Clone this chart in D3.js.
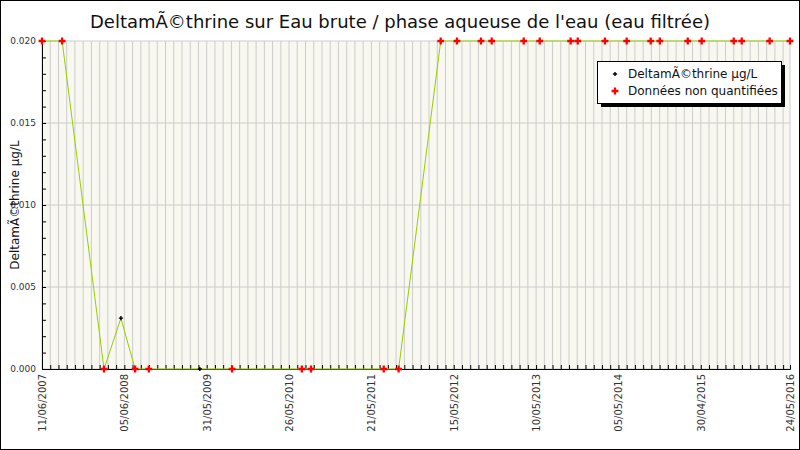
<!DOCTYPE html>
<html><head><meta charset="utf-8">
<script src="https://cdn.jsdelivr.net/npm/d3@7"></script>
<style>body{margin:0;background:#fff}text{font-family:"DejaVu Sans",sans-serif}</style>
</head><body><svg id="c" width="800" height="450"></svg>
<script>
const dates = ["2007-06-11","2007-09-07","2008-03-08","2008-05-21","2008-07-22","2008-09-20","2009-05-01","2009-09-19","2010-07-21","2010-08-30","2011-07-14","2011-09-17","2012-03-19","2012-05-29","2012-09-11","2012-10-28","2013-03-17","2013-05-26","2013-10-08","2013-11-08","2014-03-07","2014-06-10","2014-09-23","2014-11-02","2015-03-04","2015-05-04","2015-09-21","2015-10-26","2016-02-25","2016-05-24"];
const values = [0.02,0.02,0,0.0031,0,0,0,0,0,0,0,0,0.02,0.02,0.02,0.02,0.02,0.02,0.02,0.02,0.02,0.02,0.02,0.02,0.02,0.02,0.02,0.02,0.02,0.02];
const quantified = [0,0,0,1,0,0,1,0,0,0,0,0,0,0,0,0,0,0,0,0,0,0,0,0,0,0,0,0,0,0];
const yTicks = [0,0.005,0.010,0.015,0.020];
const title = "DeltamÃ©thrine sur Eau brute / phase aqueuse de l'eau (eau filtrée)";
const yLabel = "DeltamÃ©thrine µg/L";
const legendLabels = ["DeltamÃ©thrine µg/L","Données non quantifiées"];

const svg = d3.select("#c");
const L=42,R=790,T=41,B=369;
const p = d3.utcParse("%Y-%m-%d");
const start=p("2007-06-11"), end=p("2016-05-24");
const x = d3.scaleUtc().domain([start,end]).range([L,R]);
const y = d3.scaleLinear().domain([0,0.02]).range([B,T]);
svg.append("rect").attr("x",0.5).attr("y",0.5).attr("width",799).attr("height",449).attr("fill","#fff").attr("stroke","#000");
svg.append("rect").attr("x",L).attr("y",T).attr("width",R-L).attr("height",B-T).attr("fill","#f8f8f0");
const grid=d3.range(0,3270,36).map(d=>d3.utcDay.offset(start,d)).concat([end]);
const labelTicks=d3.range(0,3241,360).map(d=>d3.utcDay.offset(start,d)).filter(d=>x(d)<R-30).concat([end]);
svg.append("g").selectAll("line").data(grid).join("line").attr("x1",d=>x(d)).attr("x2",d=>x(d)).attr("y1",T).attr("y2",B).attr("stroke","#ccc");
svg.append("g").selectAll("line").data(yTicks).join("line").attr("x1",L).attr("x2",R).attr("y1",d=>y(d)).attr("y2",d=>y(d)).attr("stroke","#ccc");
svg.append("g").attr("transform",`translate(0,${B})`).call(d3.axisBottom(x).tickValues(grid).tickSize(-4).tickFormat("")).call(g=>g.select(".domain").attr("stroke","#000"));
const ax=svg.append("g").attr("transform",`translate(0,${B})`).call(d3.axisBottom(x).tickValues(labelTicks).tickSize(0).tickFormat(d3.utcFormat("%d/%m/%Y")));
ax.select(".domain").remove();
ax.selectAll("text").attr("font-size",10).attr("fill","#333").attr("transform","rotate(-90)").attr("text-anchor","end").attr("dx","-5").attr("dy","0.35em").attr("x",0).attr("y",0);
const yl=svg.append("g").attr("transform",`translate(${L},0)`).call(d3.axisLeft(y).tickValues(yTicks).tickSize(0).tickPadding(6).tickFormat(d3.format(".3f")));
yl.select(".domain").remove();
yl.selectAll("text").attr("font-size",9).attr("fill","#333");
svg.append("g").attr("transform",`translate(${L},0)`).call(d3.axisRight(y).ticks(20).tickSize(4).tickFormat("")).call(g=>g.select(".domain").attr("stroke","#000"));
const data=dates.map((d,i)=>({d:p(d),v:values[i],q:quantified[i]}));
svg.append("path").datum(data).attr("fill","none").attr("stroke","#99cc00").attr("stroke-width",1).attr("d",d3.line().x(d=>x(d.d)).y(d=>y(d.v)));
const sym=d3.symbol().type(d3.symbolCross);
svg.append("g").selectAll("path").data(data).join("path").attr("transform",d=>`translate(${x(d.d)},${y(d.v)})`).attr("d",d=>sym.size(d.q?10:26)()).attr("fill",d=>d.q?"#000":"#f00");
svg.append("text").attr("x",400).attr("y",28).attr("text-anchor","middle").attr("font-size",18).attr("fill","#111").text(title);
svg.append("text").attr("transform","translate(19,205) rotate(-90)").attr("text-anchor","middle").attr("font-size",12).attr("fill","#111").text(yLabel);
const lg=svg.append("g");
lg.append("rect").attr("x",601).attr("y",65).attr("width",184).attr("height",42).attr("fill","#000");
lg.append("rect").attr("x",597.5).attr("y",61.5).attr("width",184).attr("height",42).attr("fill","#fff").attr("stroke","#000");
legendLabels.forEach((t,i)=>{
  lg.append("path").attr("transform",`translate(615,${74+i*17})`).attr("d",sym.size(i?26:10)()).attr("fill",i?"#f00":"#000");
  lg.append("text").attr("x",628).attr("y",78+i*17).attr("font-size",12).attr("fill","#111").text(t);
});
</script></body></html>
